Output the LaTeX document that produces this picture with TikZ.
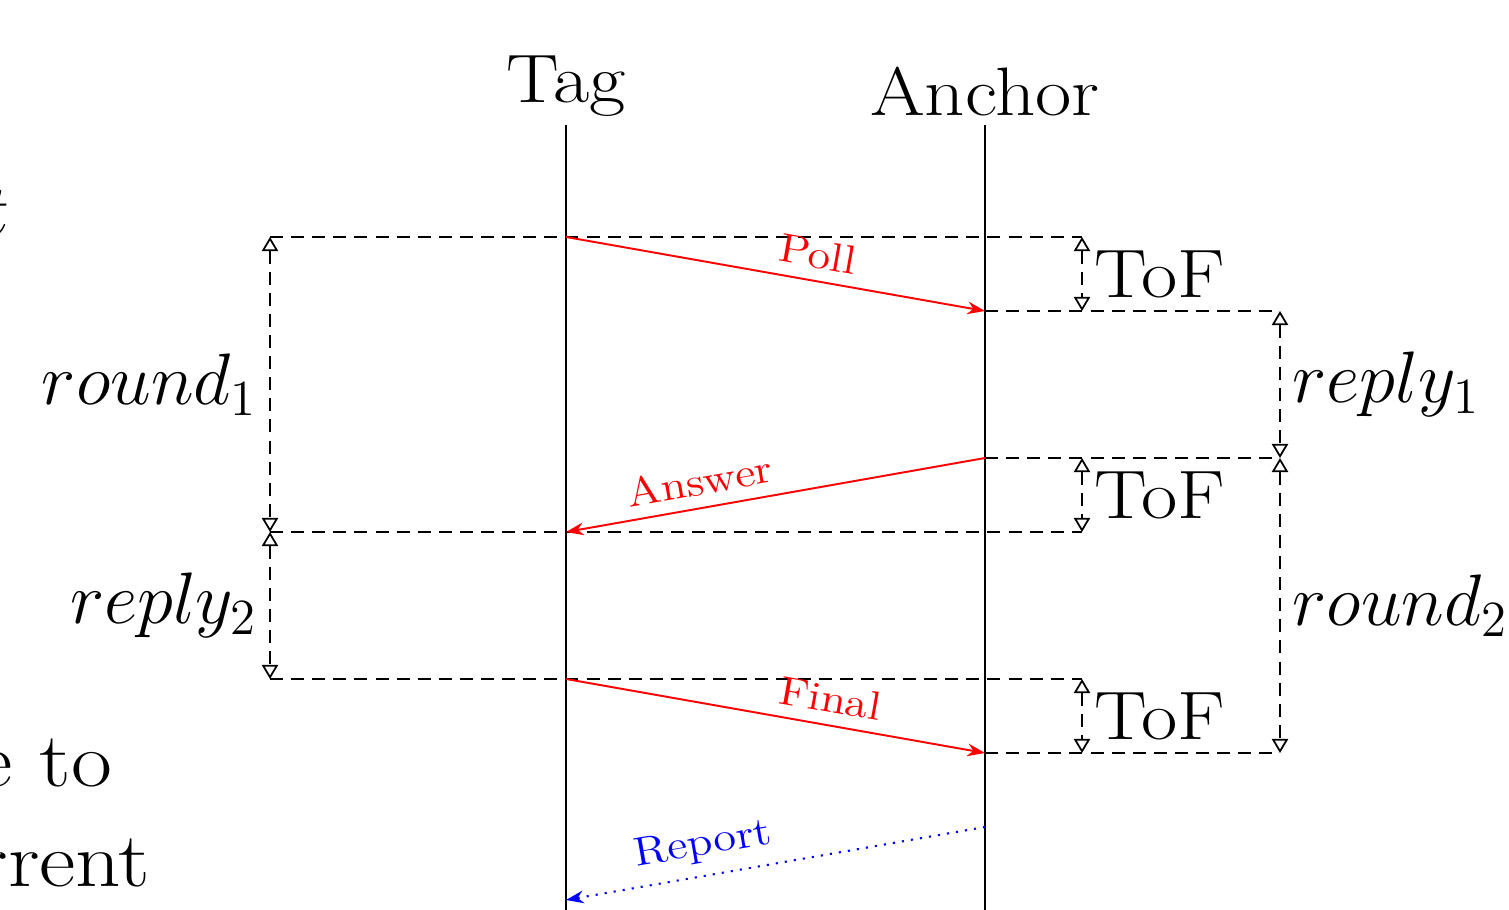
\documentclass[tikz,border=0pt]{standalone}
\usepackage[no-math]{fontspec}
\newfontfamily\widerm{Latin Modern Roman}[FakeStretch=1.15]
\usetikzlibrary{arrows.meta}
\begin{document}
\begin{tikzpicture}[x=0.01cm,y=-0.01cm,
  life/.style={line width=0.75pt},
  guide/.style={dash pattern=on 3.7pt off 2.3pt, line width=0.5pt},
  dim/.style={guide, {Triangle[open,length=4pt,width=4.6pt]}-{Triangle[open,length=4pt,width=4.6pt]}},
  msg/.style={red, line width=0.55pt, -{Stealth[length=5pt,width=3.6pt]}},
  rep/.style={blue, dotted, line width=0.6pt, -{Stealth[length=5pt,width=3.6pt]}},
  big/.style={font=\fontsize{19.5}{23}\selectfont},
  bigw/.style={font=\widerm\fontsize{19.5}{23}\selectfont},
  body/.style={font=\widerm\fontsize{22}{26}\selectfont, inner sep=0pt, anchor=base east},
  lbl/.style={font=\widerm\fontsize{11.5}{13}\selectfont, sloped, above}]

\useasboundingbox (0,0) rectangle (1509,910);

% surrounding text running into the frame
\node[body] (txtA) at (10,236) {$t$};
\node[body] (txtB) at (113,787) {e to};
\node[body] (txtC) at (151,886) {rrent};

% lifelines
\coordinate (tagtop) at (566,125);
\coordinate (tagbot) at (566,910);
\coordinate (anctop) at (985,125);
\coordinate (ancbot) at (985,910);
\draw[life] (tagtop) -- (tagbot);
\draw[life] (anctop) -- (ancbot);
\node[bigw, above, inner sep=2.3pt] (tag) at (tagtop) {Tag};
\node[bigw, above, inner sep=2.3pt] (anc) at (anctop) {Anchor};

% message events
\coordinate (t1) at (566,237);
\coordinate (a1) at (985,311);
\coordinate (a2) at (985,458);
\coordinate (t2) at (566,532);
\coordinate (t3) at (566,679);
\coordinate (a3) at (985,753);
\coordinate (a4) at (985,827);
\coordinate (t4) at (566,900);

% guide line ends
\coordinate (L1) at (270,237);
\coordinate (L2) at (270,532);
\coordinate (L3) at (270,679);
\coordinate (F1) at (1082,237);
\coordinate (F2) at (1082,311);
\coordinate (F3) at (1082,458);
\coordinate (F4) at (1082,532);
\coordinate (F5) at (1082,679);
\coordinate (F6) at (1082,753);
\coordinate (R1) at (1280,311);
\coordinate (R2) at (1280,458);
\coordinate (R3) at (1280,753);

% horizontal guides
\draw[guide] (L1) -- (F1);
\draw[guide] (a1) -- (R1);
\draw[guide] (a2) -- (R2);
\draw[guide] (L2) -- (F4);
\draw[guide] (L3) -- (F5);
\draw[guide] (a3) -- (R3);

% messages
\draw[msg] (t1) -- node[lbl, pos=0.59] {Poll} (a1);
\draw[msg] (a2) -- node[lbl, pos=0.67] {Answer} (t2);
\draw[msg] (t3) -- node[lbl, pos=0.62] {Final} (a3);
\draw[rep] (a4) -- node[lbl, pos=0.66] {Report} (t4);

% intervals
\draw[dim] (L1) -- node[big, left] {$round_1$} (L2);
\draw[dim] (L2) -- node[big, left] {$reply_2$} (L3);
\draw[dim] (R1) -- node[big, right] {$reply_1$} (R2);
\draw[dim] (R2) -- node[big, right] {$round_2$} (R3);
\draw[dim] (F1) -- node[bigw, right] {ToF} (F2);
\draw[dim] (F3) -- node[bigw, right] {ToF} (F4);
\draw[dim] (F5) -- node[bigw, right] {ToF} (F6);
\end{tikzpicture}
\end{document}
